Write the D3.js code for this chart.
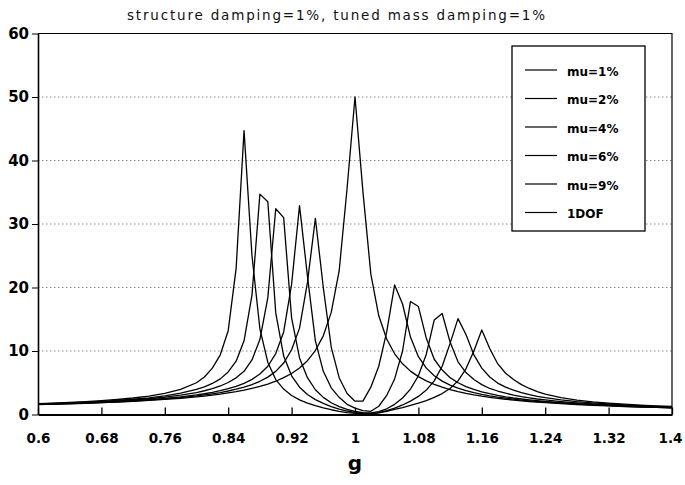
<!DOCTYPE html>
<html>
<head>
<meta charset="utf-8">
<script src="https://cdn.jsdelivr.net/npm/d3@7"></script>
<style>
  html, body { margin: 0; padding: 0; background: #fff; }
  svg { display: block; }
</style>
</head>
<body>
<svg id="chart"></svg>
<script>
// frequency ratio samples (coarser in the tails)
const gValues = [
  0.60, 0.62, 0.64, 0.66, 0.68, 0.70, 0.72, 0.74, 0.76, 0.78, 0.80,
  0.81, 0.82, 0.83, 0.84, 0.85, 0.86, 0.87, 0.88, 0.89, 0.90,
  0.91, 0.92, 0.93, 0.94, 0.95, 0.96, 0.97, 0.98, 0.99, 1.00,
  1.01, 1.02, 1.03, 1.04, 1.05, 1.06, 1.07, 1.08, 1.09, 1.10,
  1.11, 1.12, 1.13, 1.14, 1.15, 1.16, 1.17, 1.18, 1.19, 1.20,
  1.21, 1.22, 1.23, 1.24,
  1.26, 1.28, 1.30, 1.32, 1.34, 1.36, 1.38, 1.40
];

const mu1 = [
  1.58, 1.64, 1.71, 1.80, 1.89, 2.00, 2.12, 2.27, 2.45, 2.66, 2.92,
  3.08, 3.26, 3.46, 3.70, 3.98, 4.31, 4.72, 5.23, 5.89, 6.79,
  8.1, 10.2, 13.6, 20.8, 30.9, 20.0, 10.6, 5.8, 3.3, 2.1,
  2.1, 4.3, 7.6, 13.0, 20.4, 17.4, 12.2, 9.1, 7.3, 6.1,
  5.25, 4.62, 4.14, 3.75, 3.43, 3.17, 2.94, 2.74, 2.57, 2.42,
  2.28, 2.16, 2.05, 1.95,
  1.78, 1.63, 1.50, 1.39, 1.29, 1.21, 1.13, 1.06
];

const mu2 = [
  1.59, 1.66, 1.74, 1.82, 1.92, 2.04, 2.17, 2.34, 2.53, 2.77, 3.08,
  3.27, 3.49, 3.75, 4.06, 4.44, 4.91, 5.53, 6.37, 7.6, 9.6,
  13.0, 20.5, 32.9, 21.8, 11.6, 6.8, 4.2, 2.7, 1.6, 1.0,
  0.6, 0.5, 1.3, 3.0, 5.6, 10.0, 17.8, 17.0, 12.0, 8.7,
  7.0, 5.8, 5.0, 4.4, 3.95, 3.58, 3.27, 3.01, 2.79, 2.60,
  2.44, 2.30, 2.17, 2.06,
  1.86, 1.70, 1.56, 1.44, 1.33, 1.24, 1.16, 1.09
];

const mu4 = [
  1.62, 1.69, 1.78, 1.87, 1.99, 2.12, 2.28, 2.48, 2.72, 3.04, 3.46,
  3.74, 4.07, 4.49, 5.04, 5.77, 6.81, 8.6, 11.8, 18.4, 32.4,
  31.0, 15.2, 8.9, 5.8, 3.9, 2.7, 1.85, 1.25, 0.8, 0.5,
  0.3, 0.25, 0.45, 0.9, 1.6, 2.6, 4.0, 6.1, 9.5, 14.9,
  15.9, 11.4, 8.3, 6.6, 5.5, 4.7, 4.1, 3.7, 3.35, 3.06,
  2.82, 2.62, 2.44, 2.29,
  2.04, 1.84, 1.67, 1.53, 1.41, 1.31, 1.22, 1.14
];

const mu6 = [
  1.65, 1.73, 1.82, 1.93, 2.06, 2.21, 2.40, 2.63, 2.94, 3.35, 3.95,
  4.36, 4.89, 5.61, 6.70, 8.4, 11.6, 18.8, 34.7, 33.5, 16.0,
  9.2, 6.1, 4.3, 3.15, 2.35, 1.75, 1.25, 0.85, 0.55, 0.35,
  0.2, 0.15, 0.3, 0.6, 1.0, 1.5, 2.1, 2.85, 3.85, 5.3,
  7.6, 11.2, 15.1, 12.6, 9.4, 7.3, 5.9, 4.95, 4.3, 3.85,
  3.45, 3.12, 2.87, 2.65,
  2.30, 2.03, 1.82, 1.65, 1.51, 1.39, 1.28, 1.19
];

const mu9 = [
  1.70, 1.79, 1.89, 2.02, 2.17, 2.36, 2.60, 2.91, 3.34, 3.97, 5.0,
  5.9, 7.3, 9.4, 13.2, 23.0, 44.7, 25.0, 13.5, 8.2, 5.5,
  4.0, 3.0, 2.3, 1.8, 1.4, 1.05, 0.75, 0.5, 0.3, 0.2,
  0.12, 0.1, 0.25, 0.5, 0.8, 1.1, 1.45, 1.8, 2.2, 2.7,
  3.3, 4.1, 5.3, 7.2, 10.0, 13.3, 10.4, 8.0, 6.5, 5.5,
  4.7, 4.1, 3.6, 3.2,
  2.65, 2.28, 2.00, 1.79, 1.62, 1.48, 1.36, 1.26
];

const dof1 = [
  1.56, 1.62, 1.69, 1.77, 1.86, 1.96, 2.08, 2.21, 2.37, 2.55, 2.78,
  2.91, 3.05, 3.21, 3.40, 3.60, 3.83, 4.11, 4.42, 4.80, 5.24,
  5.80, 6.46, 7.33, 8.48, 10.07, 12.39, 16.08, 22.6, 35.6, 50.0,
  35.1, 22.1, 15.55, 11.88, 9.56, 7.98, 6.83, 5.96, 5.29, 4.75,
  4.30, 3.93, 3.61, 3.34, 3.10, 2.89, 2.71, 2.55, 2.40, 2.27,
  2.15, 2.05, 1.95, 1.86,
  1.70, 1.57, 1.45, 1.35, 1.26, 1.18, 1.11, 1.04
];

const seriesNames = ['mu=1%', 'mu=2%', 'mu=4%', 'mu=6%', 'mu=9%', '1DOF'];
const seriesValues = [mu1, mu2, mu4, mu6, mu9, dof1];

const xTicks = [0.6, 0.68, 0.76, 0.84, 0.92, 1.0, 1.08, 1.16, 1.24, 1.32, 1.4];
const xTickLabels = ['0.6', '0.68', '0.76', '0.84', '0.92', '1', '1.08', '1.16', '1.24', '1.32', '1.4'];
const yTicks = [0, 10, 20, 30, 40, 50, 60];

const width = 685, height = 485;
const margin = { top: 33.5, right: 13, bottom: 70.5, left: 38 };
const innerWidth = width - margin.left - margin.right;
const innerHeight = height - margin.top - margin.bottom;

const svg = d3.select('#chart')
  .attr('width', width)
  .attr('height', height)
  .attr('viewBox', `0 0 ${width} ${height}`);

const xScale = d3.scaleLinear().domain([0.6, 1.4]).range([0, innerWidth]);
const yScale = d3.scaleLinear().domain([0, 60]).range([innerHeight, 0]);

const g = svg.append('g').attr('transform', `translate(${margin.left}, ${margin.top})`);

// Title
svg.append('text')
  .attr('x', 336)
  .attr('y', 20)
  .attr('text-anchor', 'middle')
  .attr('font-family', 'DejaVu Sans, sans-serif')
  .attr('font-size', '13.5px')
  .attr('textLength', 418)
  .attr('lengthAdjust', 'spacing')
  .attr('fill', '#111')
  .text('structure damping=1%, tuned mass damping=1%');

// Dotted grid
g.append('g')
  .selectAll('line')
  .data(yTicks.filter(d => d > 0 && d < 60))
  .join('line')
  .attr('x1', 0).attr('x2', innerWidth)
  .attr('y1', d => yScale(d)).attr('y2', d => yScale(d))
  .attr('stroke', '#888')
  .attr('stroke-width', 1)
  .attr('stroke-dasharray', '1.5 2.5');

// X axis (ticks point up into the plot)
const xAxis = g.append('g')
  .attr('transform', `translate(0, ${innerHeight})`)
  .call(d3.axisBottom(xScale)
    .tickValues(xTicks)
    .tickFormat((d, i) => xTickLabels[i])
    .tickSizeInner(-7)
    .tickSizeOuter(0)
    .tickPadding(19));
xAxis.select('.domain').attr('stroke', '#000').attr('stroke-width', 2);
xAxis.selectAll('.tick line').attr('stroke', '#000').attr('stroke-width', 1.3);
xAxis.selectAll('text')
  .attr('font-family', 'DejaVu Sans, sans-serif')
  .attr('font-size', '13.5px')
  .attr('font-weight', 'bold')
  .attr('fill', '#000');
// keep the end labels inside the page
xAxis.selectAll('.tick text')
  .filter((d, i) => i === xTicks.length - 1)
  .attr('dx', '-2');

// Y axis
const yAxis = g.append('g')
  .call(d3.axisLeft(yScale)
    .tickValues(yTicks)
    .tickSizeInner(6)
    .tickSizeOuter(0)
    .tickPadding(3));
yAxis.select('.domain').attr('stroke', '#000').attr('stroke-width', 1.6);
yAxis.selectAll('.tick line').attr('stroke', '#000').attr('stroke-width', 1);
yAxis.selectAll('text')
  .attr('font-family', 'DejaVu Sans, sans-serif')
  .attr('font-size', '15px')
  .attr('font-weight', 'bold')
  .attr('fill', '#000');

// Top and right frame
g.append('path')
  .attr('d', `M0,0H${innerWidth}V${innerHeight}`)
  .attr('fill', 'none')
  .attr('stroke', '#000')
  .attr('stroke-width', 1.2);

// Curves
const line = d3.line()
  .x((d, i) => xScale(gValues[i]))
  .y(d => yScale(d));

g.append('g')
  .selectAll('path')
  .data(seriesValues)
  .join('path')
  .attr('fill', 'none')
  .attr('stroke', '#000')
  .attr('stroke-width', 1.3)
  .attr('stroke-linejoin', 'round')
  .attr('d', line);

// Legend
const legend = svg.append('g').attr('transform', 'translate(512, 46)');
legend.append('rect')
  .attr('width', 133)
  .attr('height', 185)
  .attr('fill', '#fff')
  .attr('stroke', '#000')
  .attr('stroke-width', 1.3);

const rows = legend.selectAll('g.row')
  .data(seriesNames)
  .join('g')
  .attr('class', 'row')
  .attr('transform', (d, i) => `translate(0, ${25 + i * 28.5})`);

rows.append('line')
  .attr('x1', 13).attr('x2', 45)
  .attr('y1', -1).attr('y2', -1)
  .attr('stroke', '#000')
  .attr('stroke-width', 1.2);

rows.append('text')
  .attr('x', 55)
  .attr('y', 4.5)
  .attr('font-family', 'DejaVu Sans, sans-serif')
  .attr('font-size', '12px')
  .attr('font-weight', 'bold')
  .attr('fill', '#000')
  .text(d => d);

// X label
svg.append('text')
  .attr('x', margin.left + xScale(1.0))
  .attr('y', 470)
  .attr('text-anchor', 'middle')
  .attr('font-family', 'DejaVu Sans, sans-serif')
  .attr('font-size', '20px')
  .attr('font-weight', 'bold')
  .attr('fill', '#000')
  .text('g');
</script>
</body>
</html>
